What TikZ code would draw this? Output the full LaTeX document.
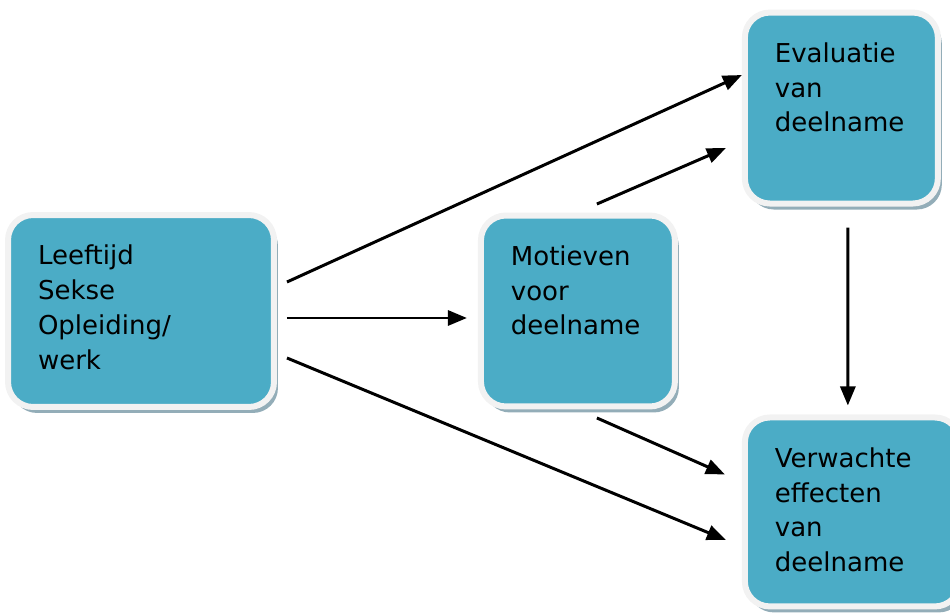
\documentclass[tikz,border=0pt]{standalone}
\usepackage{fontspec}
\setmainfont{DejaVu Sans}
\usetikzlibrary{arrows.meta,positioning,shadows,calc}
\definecolor{boxTeal}{HTML}{4BACC6}
\definecolor{rimGray}{HTML}{F2F2F2}
\definecolor{shadeBlue}{HTML}{93ADB8}
\definecolor{ink}{HTML}{000000}
\newcommand{\boxtext}[3]{\parbox[c][#2][t]{#1}{\raggedright\strut #3}}

\begin{document}
\begin{tikzpicture}[
    x=0.02cm, y=-0.02cm,
    box/.style={draw=rimGray, line width=0.12cm, fill=boxTeal, rounded corners=0.5cm, inner xsep=0.6cm, inner ysep=0.51cm, font=\fontsize{14.8}{19.8}\selectfont\color{ink}, drop shadow={shadow xshift=0.08cm, shadow yshift=-0.12cm, fill=shadeBlue, opacity=1}},
    line/.style={draw=ink, -{Triangle[length=0.38cm, width=0.3cm]}, line width=1.7pt}
  ]
    \useasboundingbox (0,0) rectangle (950,614);
    \clip (0,0) rectangle (950,614);

    % Nodes
    \node[box] (lft) at (141,311) {\boxtext{4.12cm}{2.82cm}{Leeftijd\\Sekse\\Opleiding/\\werk}};
    \node[box, right=4.02cm of lft] (mid) {\boxtext{2.68cm}{2.80cm}{Motieven\\voor\\deelname}};
    \node[box, right=1.28cm of mid, yshift=4.06cm] (evl) {\boxtext{2.66cm}{2.80cm}{Evaluatie\\van\\deelname}};
    \node[box, below=4.16cm of evl, xshift=0.22cm] (eff) {\boxtext{3.1cm}{2.76cm}{Verwachte\\effecten\\van\\deelname}};

    % Edges
    \draw[line] ([shift={(10,-29)}]lft.east) -- ([shift={(0,-33)}]evl.west);
    \draw[line] ([shift={(10,7)}]lft.east) -- ([shift={(-11,7)}]mid.west);
    \draw[line] ([shift={(10,47)}]lft.east) -- ([shift={(-16,28)}]eff.west);
    \draw[line] ([shift={(19,-8.5)}]mid.north) -- ([shift={(-16,40)}]evl.west);
    \draw[line] ([shift={(19,8.5)}]mid.south) -- ([shift={(-17,-37.5)}]eff.west);
    \draw[line] ([shift={(6.5,21)}]evl.south) -- ([shift={(-4.5,-9)}]eff.north);
  \end{tikzpicture}
\end{document}
